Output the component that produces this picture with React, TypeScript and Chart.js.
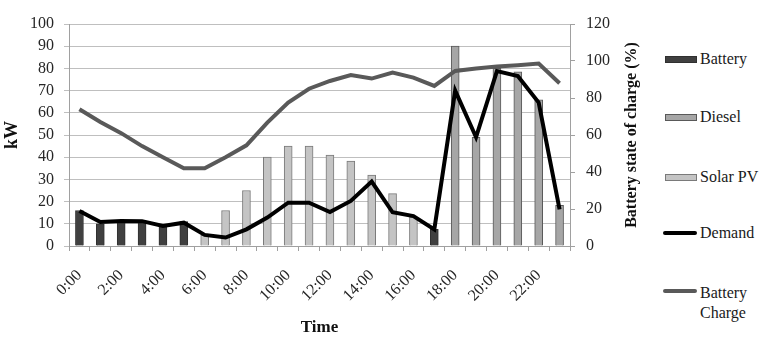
import React, { useEffect, useRef } from "react";
import { Chart, registerables } from "chart.js";

Chart.register(...registerables);

const hours: string[] = [
  "0:00", "1:00", "2:00", "3:00", "4:00", "5:00", "6:00", "7:00", "8:00", "9:00", "10:00", "11:00",
  "12:00", "13:00", "14:00", "15:00", "16:00", "17:00", "18:00", "19:00", "20:00", "21:00", "22:00", "23:00",
];
const batteryKW: number[] = [16, 10, 11.5, 11.5, 9.3, 11, 0, 0, 0, 0, 0, 0, 0, 0, 0, 0, 0, 7.5, 0, 0, 0, 0, 0, 0];
const dieselKW: number[] = [0, 0, 0, 0, 0, 0, 0, 0, 0, 0, 0, 0, 0, 0, 0, 0, 0, 0, 90, 49, 80, 78.5, 65.8, 18.3];
const solarKW: number[] = [0, 0, 0, 0, 0, 0, 4.8, 16, 25, 40, 45, 45, 41, 38.3, 32, 23.6, 13, 0, 0, 0, 0, 0, 0, 0];
const demandKW: number[] = [15.8, 10.8, 11.3, 11.2, 9, 10.5, 5, 3.8, 7.5, 12.8, 19.5, 19.5, 15.3, 20.3, 29, 15.2, 13.5, 7.5, 70, 49, 78.8, 76.6, 64.6, 16.5];
const batteryChargePct: number[] = [73.9, 67, 61, 54, 48, 42, 42, 48, 54.4, 66.7, 77.5, 85, 89.2, 92.4, 90.5, 93.7, 91, 86.5, 94.6, 96, 97, 97.7, 98.6, 88];

const FONT = "'Liberation Serif', 'Times New Roman', serif";
const TEXT = "#262626";

const rightTitlePlugin = {
  id: "rightTitle",
  afterDraw(chart: any) {
    const { ctx, chartArea } = chart;
    ctx.save();
    ctx.translate(632, (chartArea.top + chartArea.bottom) / 2);
    ctx.rotate(-Math.PI / 2);
    ctx.font = `bold 16px ${FONT}`;
    ctx.fillStyle = "#111";
    ctx.textAlign = "center";
    ctx.textBaseline = "middle";
    ctx.fillText("Battery state of charge (%)", 0, 0);
    ctx.restore();
  },
};

export default function App() {
  const ref = useRef<HTMLCanvasElement | null>(null);
  useEffect(() => {
    if (!ref.current) return;
    const chart = new Chart(ref.current, {
      type: "bar",
      data: {
        labels: hours,
        datasets: [
          {
            type: "line",
            label: "Demand",
            data: demandKW,
            yAxisID: "y",
            stack: "demand",
            borderColor: "#000000",
            borderWidth: 4,
            pointRadius: 0,
            tension: 0,
            order: 0,
          } as any,
          {
            type: "line",
            label: "Battery Charge",
            data: batteryChargePct,
            yAxisID: "y2",
            borderColor: "#595959",
            borderWidth: 4,
            pointRadius: 0,
            tension: 0,
            order: 1,
          } as any,
          {
            label: "Battery",
            data: batteryKW,
            yAxisID: "y",
            stack: "gen",
            backgroundColor: "#404040",
            borderColor: "#303030",
            borderWidth: 1,
            barThickness: 8,
            order: 2,
          },
          {
            label: "Diesel",
            data: dieselKW,
            yAxisID: "y",
            stack: "gen",
            backgroundColor: "#a6a6a6",
            borderColor: "#595959",
            borderWidth: 1,
            barThickness: 8,
            order: 2,
          },
          {
            label: "Solar PV",
            data: solarKW,
            yAxisID: "y",
            stack: "gen",
            backgroundColor: "#c4c4c4",
            borderColor: "#7a7a7a",
            borderWidth: 1,
            barThickness: 8,
            order: 2,
          },
        ],
      },
      options: {
        responsive: false,
        animation: false,
        layout: { padding: { top: 24, left: 0, right: 0, bottom: 0 } },
        plugins: { legend: { display: false }, tooltip: { enabled: false } },
        scales: {
          x: {
            stacked: true,
            afterFit: (s: any) => { s.height = 96; },
            grid: { offset: true, drawOnChartArea: false, drawTicks: true, tickLength: 5, color: "#a0a0a0" },
            border: { color: "#a0a0a0" },
            ticks: {
              autoSkip: false,
              minRotation: 45,
              maxRotation: 45,
              padding: 15,
              color: TEXT,
              font: { family: FONT, size: 16 },
              callback: (_v: any, i: number) => (i % 2 === 0 ? hours[i] : ""),
            },
            title: { display: true, text: "Time", color: "#111", font: { family: FONT, size: 17, weight: "bold" }, padding: { top: 0, bottom: 4 } },
          },
          y: {
            stacked: true,
            position: "left",
            min: 0,
            max: 100,
            afterFit: (s: any) => { s.width = 69; },
            grid: { color: "#bfbfbf", tickLength: 5 },
            border: { color: "#a0a0a0" },
            ticks: { stepSize: 10, padding: 10, color: TEXT, font: { family: FONT, size: 16 } },
            title: { display: true, text: "kW", color: "#111", font: { family: FONT, size: 18, weight: "bold" }, padding: { top: 2, bottom: 0 } },
          },
          y2: {
            position: "right",
            min: 0,
            max: 120,
            afterFit: (s: any) => { s.width = 80; },
            grid: { drawOnChartArea: false, tickLength: 5, color: "#a0a0a0" },
            border: { color: "#a0a0a0" },
            ticks: { stepSize: 20, padding: 11, color: TEXT, font: { family: FONT, size: 16 } },
          },
        },
      },
      plugins: [rightTitlePlugin],
    });
    return () => chart.destroy();
  }, []);

  const legendText: React.CSSProperties = {
    position: "absolute",
    left: 700,
    fontFamily: FONT,
    fontSize: 16,
    color: "#1a1a1a",
    lineHeight: "20px",
    whiteSpace: "nowrap",
  };
  const swatch = (top: number, bg: string, border: string): React.CSSProperties => ({
    position: "absolute",
    left: 665,
    top,
    width: 30,
    height: 5,
    background: bg,
    border: `1px solid ${border}`,
  });
  const lineSw = (top: number, bg: string): React.CSSProperties => ({
    position: "absolute",
    left: 663,
    top,
    width: 34,
    height: 4,
    background: bg,
    borderRadius: 2,
  });

  return (
    <div style={{ position: "absolute", left: 0, top: 0, width: 776, height: 342, background: "#fff" }}>
      <canvas ref={ref} width={650} height={342} style={{ position: "absolute", left: 0, top: 0 }} />
      <div style={swatch(56, "#404040", "#303030")} />
      <div style={{ ...legendText, top: 49 }}>Battery</div>
      <div style={swatch(114, "#a6a6a6", "#595959")} />
      <div style={{ ...legendText, top: 107 }}>Diesel</div>
      <div style={swatch(174, "#c4c4c4", "#7a7a7a")} />
      <div style={{ ...legendText, top: 167 }}>Solar PV</div>
      <div style={lineSw(231, "#000000")} />
      <div style={{ ...legendText, top: 223 }}>Demand</div>
      <div style={lineSw(289, "#595959")} />
      <div style={{ ...legendText, top: 283 }}>Battery</div>
      <div style={{ ...legendText, top: 303 }}>Charge</div>
    </div>
  );
}
